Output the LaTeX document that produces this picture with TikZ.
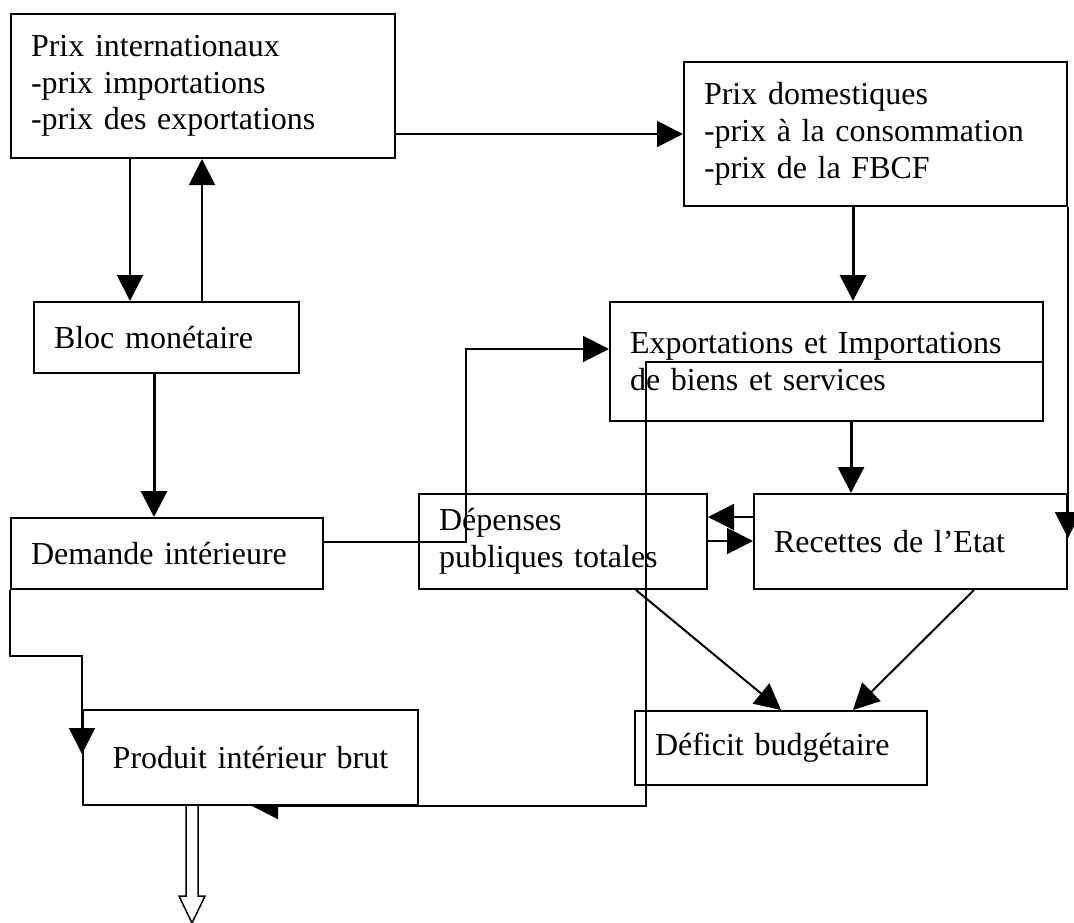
\documentclass[tikz,border=0pt]{standalone}
\usepackage{fontspec}
\setmainfont{Liberation Serif}
\usetikzlibrary{arrows.meta}
\usetikzlibrary{backgrounds}
\usetikzlibrary{calc}

\begin{document}
\begin{tikzpicture}[x=1pt,y=-1pt,
  box/.style={draw, line width=2pt, anchor=north west, inner sep=0pt, align=left,
    font=\fontsize{32}{36.8}\selectfont},
  link/.style={line width=2pt, -{Triangle[length=26pt,width=26pt]}},
  biglink/.style={link, line width=3pt}]
\useasboundingbox (0,0) rectangle (1074,922);

% blocs du modele
\node[box, minimum width=384pt, minimum height=144pt, text width=344pt] (intl) at (10,13)
  {Prix internationaux\\-prix importations\\-prix des exportations};
\node[box, minimum width=383pt, minimum height=144pt, text width=343pt] (dom) at (683,61)
  {Prix domestiques\\-prix à la consommation\\-prix de la FBCF};
\node[box, minimum width=265pt, minimum height=71pt, text width=225pt] (bloc) at (33,301)
  {Bloc monétaire};
\node[box, minimum width=433pt, minimum height=119pt, text width=393pt] (expimp) at (609,301)
  {Exportations et Importations\\de biens et services};
\node[box, minimum width=312pt, minimum height=71pt, text width=272pt] (dem) at (10,517)
  {Demande intérieure};
\node[box, minimum width=288pt, minimum height=95pt, text width=248pt] (dep) at (418,493)
  {Dépenses\\publiques totales};
\node[box, minimum width=313pt, minimum height=95pt, text width=273pt] (rec) at (753,493)
  {Recettes de l’Etat};
\node[box, minimum width=292pt, minimum height=74pt, text width=252pt] (def) at (634,710)
  {Déficit budgétaire};
\node[box, fill=white, align=center, minimum width=335pt, minimum height=95pt, text width=300pt] (pib) at (82,709)
  {Produit intérieur brut};

% liaisons
\draw[link] (intl.east |- dom.west) -- (dom.west);
\draw[link] (130,0 |- intl.south) -- (130,0 |- bloc.north);
\draw[link] (202,0 |- bloc.north) -- (202,0 |- intl.south);
\draw[biglink] (154,0 |- bloc.south) -- (154,0 |- dem.north);
\draw[biglink] (853,0 |- dom.south) -- (853,0 |- expimp.north);
\draw[biglink] (851,0 |- expimp.south) -- (851,0 |- rec.north);
\draw[link] (dom.south east) -- ([yshift=-45pt]rec.north east);

\coordinate (inexp) at ([yshift=-48pt]expimp.north west);
\draw[link] ([yshift=12pt]dem.east) -| (466,0 |- inexp) -- (inexp);

\draw[link] ([yshift=-24pt]rec.north west) -- ([yshift=-24pt]rec.north west -| dep.east);
\draw[link] ([yshift=-48pt]dep.north east) -- ([yshift=-48pt]dep.north east -| rec.west);

\draw[link] ([xshift=-72pt]dep.south east) -- ([xshift=147pt]def.north west);
\draw[link] ([xshift=221pt]rec.south west) -- ([xshift=219pt]def.north west);

\draw[link] (dem.south west) -- ++(0,66) -| ([yshift=-45pt]pib.north west);

\begin{scope}[on background layer]
\draw[link] (expimp.east) -- (646,0 |- expimp.east) -- (646,0 |- pib.south)
  -- ([xshift=170pt]pib.south west);
\end{scope}

% sortie du PIB
\coordinate (pibout) at ([xshift=110pt]pib.south west);
\draw[line width=1.5pt] ([xshift=-6pt]pibout) -- ++(0,90) -- ++(-7,0) -- ++(13,27)
  -- ++(13,-27) -- ++(-7,0) -- ++(0,-90);
\end{tikzpicture}
\end{document}
